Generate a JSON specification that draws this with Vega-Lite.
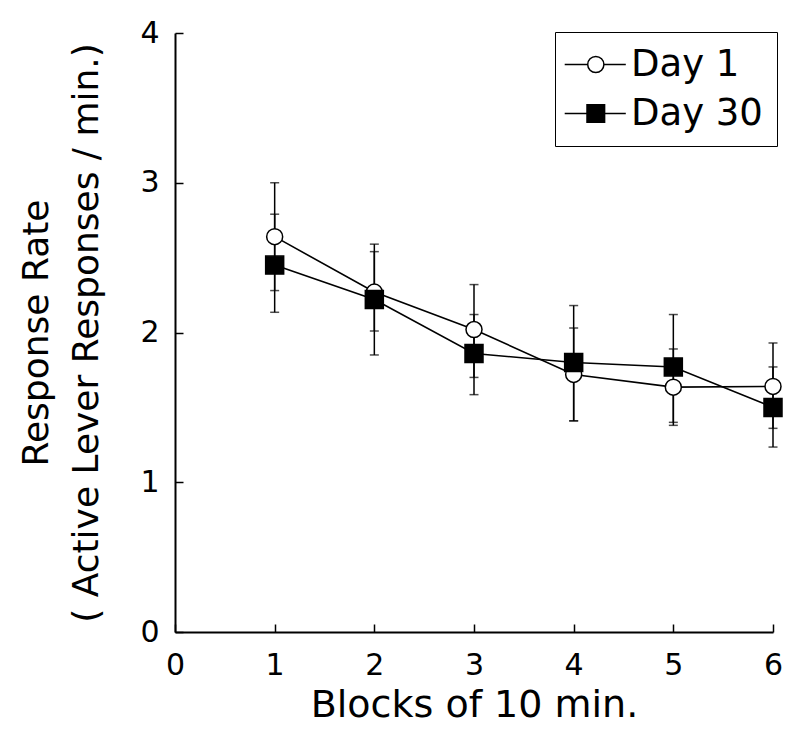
{
  "$schema": "https://vega.github.io/schema/vega-lite/v6.json",
  "width": 598,
  "height": 599,
  "autosize": {"type": "none"},
  "padding": {"left": 175, "top": 33, "right": 27, "bottom": 110},
  "background": "white",
  "config": {
    "view": {"stroke": null},
    "font": "DejaVu Sans",
    "axis": {
      "grid": false,
      "domainColor": "black",
      "domainWidth": 2,
      "tickColor": "black",
      "tickWidth": 1.5,
      "tickSize": 8,
      "labelColor": "black",
      "labelFont": "DejaVu Sans",
      "labelFontSize": 30,
      "titleFont": "DejaVu Sans",
      "titleFontSize": 38,
      "titleFontWeight": "normal",
      "titleColor": "black"
    }
  },
  "data": {
    "values": [
      {"block": 1, "day": "Day 1", "mean": 2.64, "lo": 2.28, "hi": 3.00},
      {"block": 2, "day": "Day 1", "mean": 2.27, "lo": 2.01, "hi": 2.54},
      {"block": 3, "day": "Day 1", "mean": 2.02, "lo": 1.70, "hi": 2.32},
      {"block": 4, "day": "Day 1", "mean": 1.72, "lo": 1.41, "hi": 2.03},
      {"block": 5, "day": "Day 1", "mean": 1.635, "lo": 1.38, "hi": 1.89},
      {"block": 6, "day": "Day 1", "mean": 1.64, "lo": 1.36, "hi": 1.93},
      {"block": 1, "day": "Day 30", "mean": 2.45, "lo": 2.135, "hi": 2.79},
      {"block": 2, "day": "Day 30", "mean": 2.22, "lo": 1.85, "hi": 2.59},
      {"block": 3, "day": "Day 30", "mean": 1.86, "lo": 1.585, "hi": 2.12},
      {"block": 4, "day": "Day 30", "mean": 1.80, "lo": 1.41, "hi": 2.18},
      {"block": 5, "day": "Day 30", "mean": 1.77, "lo": 1.40, "hi": 2.12},
      {"block": 6, "day": "Day 30", "mean": 1.50, "lo": 1.235, "hi": 1.77}
    ]
  },
  "resolve": {"axis": {"x": "independent", "y": "independent"}},
  "layer": [
    {
      "mark": {"type": "rule", "color": "black", "strokeWidth": 1.5},
      "encoding": {
        "x": {
          "field": "block", "type": "quantitative",
          "scale": {"domain": [0, 6], "nice": false},
          "axis": {"values": [0, 1, 2, 3, 4, 5, 6], "format": "d", "ticks": false, "title": "Blocks of 10 min.", "labelPadding": 18, "titlePadding": 6, "labelFlush": false}
        },
        "y": {
          "field": "lo", "type": "quantitative",
          "scale": {"domain": [0, 4], "nice": false},
          "axis": {"values": [0, 1, 2, 3, 4], "format": "d", "ticks": false, "title": ["Response Rate", "( Active Lever Responses / min.)"], "titleFontSize": 36, "titleLineHeight": 50, "labelPadding": 16, "titlePadding": 34, "labelFlush": false}
        },
        "y2": {"field": "hi"}
      }
    },
    {
      "mark": {"type": "tick", "orient": "horizontal", "color": "black", "size": 9, "thickness": 1.5},
      "encoding": {
        "x": {
          "field": "block", "type": "quantitative",
          "axis": {"orient": "top", "offset": -599, "values": [0, 1, 2, 3, 4, 5, 6], "labels": false, "domain": false, "title": null, "tickSize": 8}
        },
        "y": {
          "field": "lo", "type": "quantitative",
          "axis": {"orient": "right", "offset": -598, "values": [0, 1, 2, 3, 4], "labels": false, "domain": false, "title": null, "tickSize": 8}
        }
      }
    },
    {
      "mark": {"type": "tick", "orient": "horizontal", "color": "black", "size": 9, "thickness": 1.5},
      "encoding": {
        "x": {"field": "block", "type": "quantitative", "axis": null},
        "y": {"field": "hi", "type": "quantitative", "axis": null}
      }
    },
    {
      "mark": {"type": "line", "color": "black", "strokeWidth": 1.6},
      "encoding": {
        "x": {"field": "block", "type": "quantitative", "axis": null},
        "y": {"field": "mean", "type": "quantitative", "axis": null},
        "detail": {"field": "day"}
      }
    },
    {
      "mark": {"type": "point", "stroke": "black", "strokeWidth": 1.5, "opacity": 1},
      "encoding": {
        "x": {"field": "block", "type": "quantitative", "axis": null},
        "y": {"field": "mean", "type": "quantitative", "axis": null},
        "shape": {"condition": {"test": "datum.day === 'Day 1'", "value": "circle"}, "value": "square"},
        "size": {"condition": {"test": "datum.day === 'Day 1'", "value": 256}, "value": 324},
        "fill": {"condition": {"test": "datum.day === 'Day 1'", "value": "white"}, "value": "black"}
      }
    },
    {
      "transform": [{"filter": "false"}],
      "mark": {"type": "point", "strokeWidth": 1.5, "opacity": 1},
      "encoding": {
        "x": {"field": "block", "type": "quantitative", "axis": null},
        "y": {"field": "mean", "type": "quantitative", "axis": null},
        "shape": {
          "field": "day", "type": "nominal",
          "scale": {
            "domain": ["Day 1", "Day 30"],
            "range": [
              "M-2.28,0H0.02M1.64,0H3.83M0.02,0A0.81,0.81 0 1,1 1.64,0A0.81,0.81 0 1,1 0.02,0Z",
              "M-2.28,0H-0.05M1.71,0H3.83M-0.05,-0.88H1.71V0.88H-0.05Z"
            ]
          },
          "legend": {
            "title": null,
            "orient": "none",
            "legendX": 380,
            "legendY": -1,
            "strokeColor": "black",
            "fillColor": "white",
            "padding": 14,
            "symbolSize": 400,
            "symbolStrokeColor": "black",
            "symbolStrokeWidth": 1.5,
            "symbolOpacity": 1,
            "labelFont": "DejaVu Sans",
            "labelFontSize": 37,
            "labelColor": "black",
            "labelOffset": 25,
            "rowPadding": 11,
            "labelLimit": 300,
            "encode": {"symbols": {"update": {"stroke": {"value": "black"}, "strokeWidth": {"value": 1.5}, "opacity": {"value": 1}}}}
          }
        },
        "stroke": {
          "field": "day", "type": "nominal",
          "scale": {"domain": ["Day 1", "Day 30"], "range": ["black", "black"]}
        },
        "fill": {
          "field": "day", "type": "nominal",
          "scale": {"domain": ["Day 1", "Day 30"], "range": ["white", "black"]}
        }
      }
    }
  ]
}
